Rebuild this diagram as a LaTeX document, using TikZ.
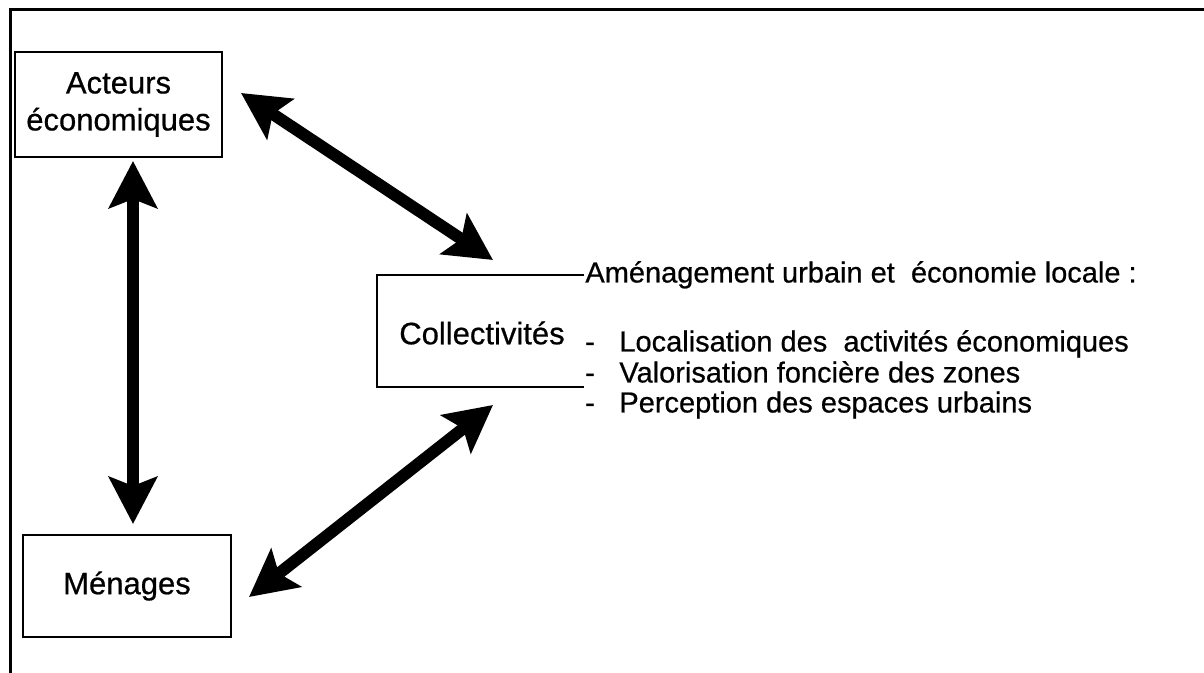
\documentclass[tikz,border=0pt]{standalone}
\usepackage{fontspec}
\setmainfont{Liberation Sans}[BoldFont={Liberation Sans}, BoldFeatures={FakeBold=0.6}]
\usepackage{tikz}
\usetikzlibrary{arrows.meta,positioning,calc}

\begin{document}
\begin{tikzpicture}[
    x=0.5pt, y=-0.5pt,
    box/.style={rectangle, draw, line width=1pt, align=center, font=\fontsize{15.5}{18.5}\selectfont\bfseries},
    note/.style={inner sep=0.5pt, text height=10.5pt, text depth=3pt, font=\fontsize{14.5}{17}\selectfont\bfseries},
    both/.style={{Stealth[length=23.5pt, width=24pt, inset=4.5pt]}-{Stealth[length=23.5pt, width=24pt, inset=4.5pt]}, line width=6pt},
]
    \useasboundingbox (0,0) rectangle (1204,673);

    % Outer frame (top and left sides only)
    \draw[line width=1.5pt] (10,673) -- (10,10) -- (1204,10);

    % Left column
    \node[box, minimum width=103.5pt, minimum height=52.5pt] (acteurs) at (118.5,104.5) {Acteurs\\économiques};
    \node[box, minimum width=104pt, minimum height=51pt] (menages) at (127,586) {Ménages};

    % Collectivités and its notes
    \node[inner sep=0pt, font=\fontsize{15.5}{18.5}\selectfont\bfseries] (coll) at (482,333) {Collectivités};
    \coordinate (collTL) at (377,277);
    \coordinate (collBL) at (377,387);
    \node[note, anchor=west] (amen) at (584,275) {Aménagement urbain et\ \ économie locale :};
    \node[note] (d1) at (590,344) {-};
    \node[note] (d2) at (590,375) {-};
    \node[note] (d3) at (590,405) {-};
    \node[note, anchor=west] (loc) at (618,344) {Localisation des\ \ activités économiques};
    \node[note, anchor=west] (val) at (618,375) {Valorisation foncière des zones};
    \node[note, anchor=west] (per) at (618,405) {Perception des espaces urbains};
    \draw[line width=1pt] (amen.west) -- (amen.west -| collTL) -- (collBL) -- (collBL -| d2.west);

    % Double arrows
    \draw[both] ([shift={(18,-11.5)}]acteurs.east) -- ([shift={(116,-17)}]collTL);
    \draw[both] ([shift={(14.5,3)}]acteurs.south) -- ([shift={(6,-10)}]menages.north);
    \draw[both] ([shift={(17,11)}]menages.east) -- ([shift={(116,18)}]collBL);
\end{tikzpicture}
\end{document}
